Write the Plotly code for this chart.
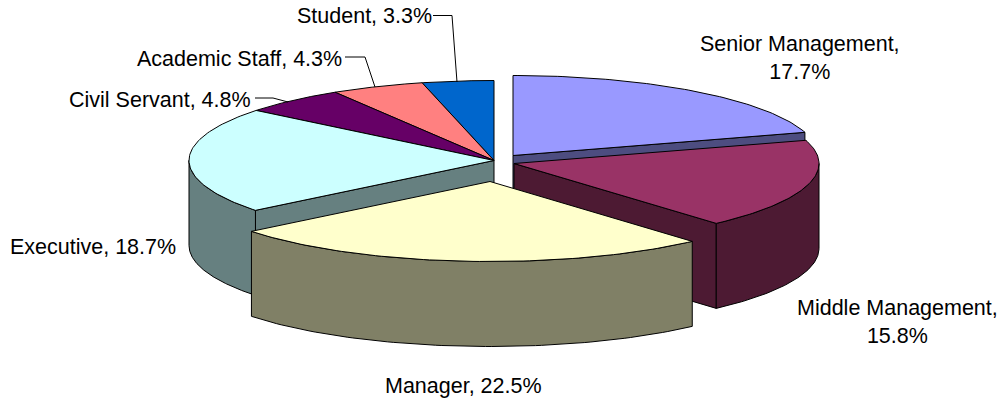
import numpy as np
import plotly.graph_objects as go

categories = ["Senior Management", "Middle Management", "Manager", "Executive",
              "Civil Servant", "Academic Staff", "Student"]
values = [17.7, 15.8, 22.5, 18.7, 4.8, 4.3, 3.3]
top_colors = ["#9999FF", "#993366", "#FFFFCC", "#CCFFFF", "#660066", "#FF8080", "#0066CC"]
side_colors = ["#4D4D80", "#4D1A33", "#808066", "#668080", "#330033", "#804040", "#003366"]
offsets_x = [19, 20, -4, 0, 0, 0, 0]
offsets_y = [-5, 3, 21, 0, 0, 0, 0]
label_text = ["Senior Management,<br>17.7%", "Middle Management,<br>15.8%", "Manager, 22.5%",
              "Executive, 18.7%", "Civil Servant, 4.8%", "Academic Staff, 4.3%", "Student, 3.3%"]
label_x = [800, 897.5, 463.5, 92.5, 159.5, 239.5, 364.5]
label_y = [58, 321.5, 385.5, 247, 99.5, 58.5, 15.5]
leader_x = [[433, 452, 457], [345, 365, 375], [255, 273, 288]]
leader_y = [[15.5, 15.5, 82], [57, 57, 87], [98, 98, 102]]

CX, CY, RX, RY, DEPTH = 494, 160.5, 305, 80, 85
FONT = "Liberation Sans"

shares = np.array(values) / sum(values) * 360
ends = np.cumsum(shares)
starts = ends - shares


def rim(i, a0, a1, n=80):
    t = np.radians(np.linspace(a0, a1, n))
    return CX + offsets_x[i] + RX * np.sin(t), CY + offsets_y[i] - RY * np.cos(t)


def apex(i):
    return CX + offsets_x[i], CY + offsets_y[i]


fig = go.Figure()


def poly(xs, ys, color):
    fig.add_trace(go.Scatter(x=list(xs), y=list(ys), mode="lines", fill="toself",
                             fillcolor=color, line=dict(color="#000000", width=1),
                             hoverinfo="skip", showlegend=False))


def top(i):
    x, y = rim(i, starts[i], ends[i])
    ax, ay = apex(i)
    poly([ax, *x, ax], [ay, *y, ay], top_colors[i])


def wall(i, angle):
    x, y = rim(i, angle, angle, 1)
    ax, ay = apex(i)
    poly([ax, x[0], x[0], ax, ax], [ay, y[0], y[0] + DEPTH, ay + DEPTH, ay], side_colors[i])


def outer(i):
    a0, a1 = max(starts[i], 90), min(ends[i], 270)
    x, y = rim(i, a0, a1)
    poly([*x, *x[::-1], x[0]], [*y, *(y[::-1] + DEPTH), y[0]], side_colors[i])


for i in (6, 5, 4):
    top(i)
wall(0, ends[0])
top(0)
wall(3, starts[3])
outer(3)
top(3)
wall(1, ends[1])
outer(1)
top(1)
outer(2)
top(2)

for lx, ly in zip(leader_x, leader_y):
    fig.add_trace(go.Scatter(x=lx, y=ly, mode="lines", line=dict(color="#000000", width=1),
                             hoverinfo="skip", showlegend=False))

for t, x, y in zip(label_text, label_x, label_y):
    fig.add_annotation(x=x, y=y, text=t, showarrow=False, xref="x", yref="y",
                       xanchor="center", yanchor="middle", align="center",
                       font=dict(family=FONT, size=21.5, color="#000000"))

fig.update_layout(width=1005, height=402, margin=dict(l=0, r=0, t=0, b=0),
                  paper_bgcolor="#FFFFFF", plot_bgcolor="#FFFFFF",
                  xaxis=dict(range=[0, 1005], visible=False, fixedrange=True),
                  yaxis=dict(range=[402, 0], visible=False, fixedrange=True))
fig.write_html("out.html", config={"displayModeBar": False},
               post_script="document.body.style.margin='0';document.body.style.overflow='hidden';")
